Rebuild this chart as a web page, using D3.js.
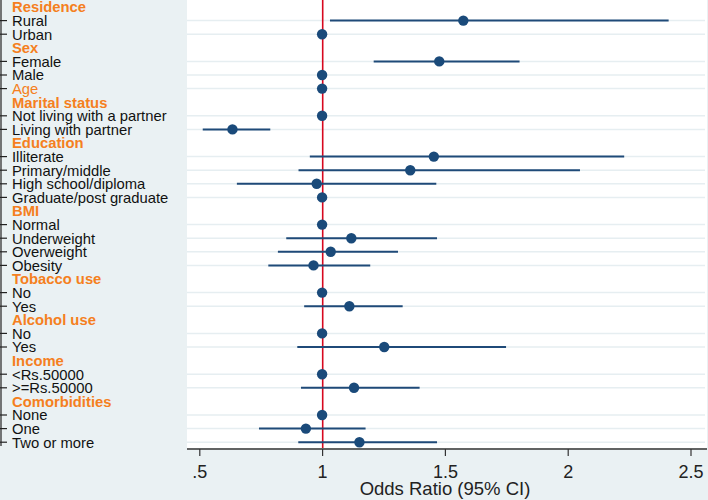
<!DOCTYPE html>
<html><head><meta charset="utf-8">
<script src="https://cdn.jsdelivr.net/npm/d3@7"></script>
<style>html,body{margin:0;padding:0;background:#eaf1f3;}svg{display:block;font-family:"Liberation Sans",Arial,sans-serif;}</style>
</head><body>
<svg id="chart" width="708" height="500"></svg>
<script>
// kind: h = bold header, a = plain orange data row, d = data row
const labels = ["Residence","Rural","Urban","Sex","Female","Male","Age","Marital status","Not living with a partner","Living with partner","Education","Illiterate","Primary/middle","High school/diploma","Graduate/post graduate","BMI","Normal","Underweight","Overweight","Obesity","Tobacco use","No","Yes","Alcohol use","No","Yes","Income","<Rs.50000",">=Rs.50000","Comorbidities","None","One","Two or more"];
const kinds  = ["h","d","d","h","d","d","a","h","d","d","h","d","d","d","d","h","d","d","d","d","h","d","d","h","d","d","h","d","d","h","d","d","d"];
const oddsRatio = [null,1.575,1,null,1.477,1,1,null,1,0.635,null,1.455,1.359,0.978,1,null,1,1.119,1.035,0.965,null,1,1.111,null,1,1.253,null,1,1.130,null,1,0.934,1.152];
const ciLow     = [null,1.032,null,null,1.210,null,null,null,null,0.514,null,0.950,0.904,0.653,null,null,null,0.854,0.820,0.781,null,null,0.927,null,null,0.899,null,null,0.914,null,null,0.743,0.903];
const ciHigh    = [null,2.411,null,null,1.804,null,null,null,null,0.789,null,2.230,2.050,1.465,null,null,null,1.468,1.309,1.196,null,null,1.328,null,null,1.749,null,null,1.397,null,null,1.177,1.468];
const xTicks = [0.5,1,1.5,2,2.5];
const xTickLabels = [".5","1","1.5","2","2.5"];

const svg = d3.select("#chart");
const W = 708, H = 500;
const plotL = 187, plotR = 707, plotT = 0, plotB = 448;
const x = d3.scaleLinear().domain([0.5,2.5]).range([199.3,690.5]);
const y = d3.scalePoint().domain(d3.range(labels.length)).range([7,442.2]);

svg.append("rect").attr("width",W).attr("height",H).attr("fill","#eaf1f3");
svg.append("rect").attr("x",plotL).attr("y",plotT).attr("width",plotR-plotL).attr("height",plotB-plotT).attr("fill","#ffffff");

const rows = labels.map((l,i)=>({i,label:l,kind:kinds[i],or:oddsRatio[i],lo:ciLow[i],hi:ciHigh[i]}));
const dataRows = rows.filter(r=>r.kind!=="h");

// gridlines
svg.append("g").selectAll("line").data(dataRows).join("line")
  .attr("x1",plotL).attr("x2",plotR-2)
  .attr("y1",d=>y(d.i)).attr("y2",d=>y(d.i))
  .attr("stroke","#e6eef1").attr("stroke-width",1.5);

// left axis
svg.append("line").attr("x1",1).attr("x2",1).attr("y1",0).attr("y2",446).attr("stroke","#222").attr("stroke-width",1.2);
svg.append("g").selectAll("line").data(dataRows).join("line")
  .attr("x1",0).attr("x2",7).attr("y1",d=>y(d.i)).attr("y2",d=>y(d.i))
  .attr("stroke","#222").attr("stroke-width",1.2);

// labels
svg.append("g").selectAll("text").data(rows).join("text")
  .attr("x",12).attr("y",d=>y(d.i)).attr("dy","0.36em")
  .attr("font-size",14.8)
  .attr("font-weight",d=>d.kind==="h"?"bold":"normal")
  .attr("fill",d=>d.kind==="d"?"#111":"#f57f20")
  .text(d=>d.label);

// reference line at 1
svg.append("line").attr("x1",x(1)+0.6).attr("x2",x(1)+0.6).attr("y1",plotT).attr("y2",plotB)
  .attr("stroke","#d7081f").attr("stroke-width",1.6);

// CI lines
svg.append("g").selectAll("line").data(rows.filter(r=>r.lo!=null)).join("line")
  .attr("x1",d=>x(d.lo)).attr("x2",d=>x(d.hi))
  .attr("y1",d=>y(d.i)).attr("y2",d=>y(d.i))
  .attr("stroke","#1f4a78").attr("stroke-width",2);

// points
svg.append("g").selectAll("circle").data(rows.filter(r=>r.or!=null)).join("circle")
  .attr("cx",d=>x(d.or)).attr("cy",d=>y(d.i)).attr("r",5.2)
  .attr("fill","#1a4a7a");

// bottom axis
const gx = svg.append("g").attr("transform",`translate(0,${plotB+1})`);
gx.append("line").attr("x1",plotL).attr("x2",plotR).attr("stroke","#333").attr("stroke-width",1.5);
const ax = d3.axisBottom(x).tickValues(xTicks).tickFormat((d,i)=>xTickLabels[i]).tickSize(7).tickPadding(9);
const axg = svg.append("g").attr("transform",`translate(0,${plotB+1})`).call(ax);
axg.select(".domain").remove();
axg.selectAll(".tick line").attr("stroke","#333").attr("stroke-width",1.2);
axg.selectAll(".tick text").attr("font-size",18).attr("fill","#222").attr("font-family","Liberation Sans, Arial, sans-serif");

svg.append("text").attr("x",445).attr("y",495).attr("text-anchor","middle")
  .attr("font-size",18.5).attr("fill","#222").text("Odds Ratio (95% CI)");
</script>
</body></html>
